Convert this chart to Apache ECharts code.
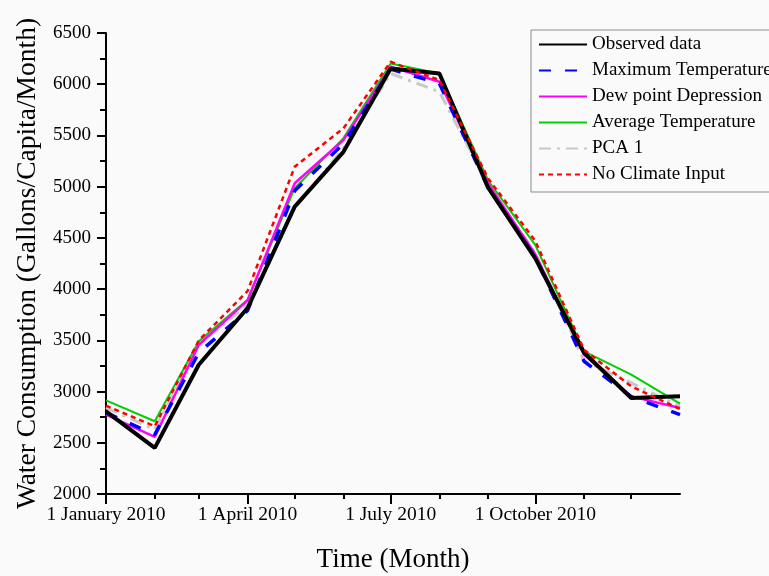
<!DOCTYPE html>
<html>
<head>
<meta charset="utf-8">
<script src="https://cdn.jsdelivr.net/npm/echarts@6/dist/echarts.min.js"></script>
<style>
  html, body { margin: 0; padding: 0; background: #fafafa; }
  #chart { width: 769px; height: 576px; }
</style>
</head>
<body>
<div id="chart"></div>
<script>
// monthly dates, 1 Jan 2010 .. 1 Jan 2011
const months = ['2010-01-01', '2010-02-01', '2010-03-01', '2010-04-01', '2010-05-01', '2010-06-01',
  '2010-07-01', '2010-08-01', '2010-09-01', '2010-10-01', '2010-11-01', '2010-12-01', '2011-01-01']
const monthNames = ['January', 'February', 'March', 'April', 'May', 'June', 'July',
  'August', 'September', 'October', 'November', 'December']

const observed = [2807, 2450, 3262, 3815, 4805, 5340, 6154, 6105, 4990, 4300, 3379, 2937, 2953]
const maxTemp = [2794, 2580, 3380, 3790, 4960, 5420, 6147, 6008, 4990, 4310, 3295, 2950, 2775]
const dewPoint = [2775, 2557, 3457, 3890, 5033, 5455, 6170, 6024, 5030, 4340, 3360, 2953, 2840]
const avgTemp = [2914, 2710, 3490, 3895, 4985, 5474, 6203, 6105, 5060, 4430, 3392, 3165, 2882]
const pca1 = [2843, 2628, 3457, 3847, 4790, 5377, 6105, 5926, 5020, 4350, 3300, 3084, 2856]
const noClimate = [2862, 2661, 3500, 3980, 5195, 5570, 6219, 6040, 5080, 4470, 3408, 3050, 2830]

const monthTicks = months.slice(0, 12)
const quarterTicks = ['2010-01-01', '2010-04-01', '2010-07-01', '2010-10-01']

const FONT = 'Liberation Serif'
// x position = days since 1 Jan 2010
const toDay = (s) => {
  const p = s.split('-')
  return Math.round((Date.UTC(+p[0], +p[1] - 1, +p[2]) - Date.UTC(2010, 0, 1)) / 86400000)
}
const pairs = (vals) => vals.map((v, i) => [toDay(months[i]), v])

const chart = echarts.init(document.getElementById('chart'))

const baseLine = (name, values, color, width, type) => ({
  name: name,
  type: 'line',
  data: pairs(values),
  symbol: 'none',
  lineStyle: { color: color, width: width, type: type },
  itemStyle: { color: color },
  emphasis: { disabled: true },
})

const option = {
  animation: false,
  backgroundColor: '#fafafa',
  textStyle: { fontFamily: FONT },
  grid: { left: 106, right: 89, top: 33, bottom: 82, outerBoundsMode: 'none' },
  legend: {
    orient: 'vertical',
    left: 531,
    top: 30,
    padding: [5, 60, 8, 7],
    itemWidth: 48,
    itemHeight: 14,
    itemGap: 7,
    borderColor: '#8a8a8a',
    borderWidth: 1,
    backgroundColor: '#fafafa',
    itemStyle: { opacity: 0 },
    textStyle: { fontFamily: FONT, fontSize: 19, color: '#000' },
    data: ['Observed data', 'Maximum Temperature', 'Dew point Depression',
      'Average Temperature', 'PCA 1', 'No Climate Input'],
  },
  xAxis: [
    {
      type: 'value',
      min: toDay(months[0]),
      max: toDay(months[12]),
      axisLine: { lineStyle: { color: '#000', width: 2 } },
      axisTick: { show: true, customValues: monthTicks.map(toDay), length: 5, lineStyle: { color: '#000', width: 2 } },
      axisLabel: { show: false },
      splitLine: { show: false },
    },
    {
      type: 'value',
      position: 'bottom',
      min: toDay(months[0]),
      max: toDay(months[12]),
      axisLine: { show: false },
      axisTick: { show: true, customValues: quarterTicks.map(toDay), length: 10, lineStyle: { color: '#000', width: 2 } },
      axisLabel: {
        customValues: quarterTicks.map(toDay),
        margin: 11,
        fontFamily: FONT,
        fontSize: 19.5,
        color: '#000',
        formatter: function (value) {
          const i = months.findIndex((m) => toDay(m) === value)
          return '1 ' + monthNames[i % 12] + ' ' + months[i].slice(0, 4)
        },
      },
      splitLine: { show: false },
      name: 'Time (Month)',
      nameLocation: 'middle',
      nameGap: 52,
      nameTextStyle: { fontFamily: FONT, fontSize: 27, color: '#000' },
    },
  ],
  yAxis: {
    type: 'value',
    min: 2000,
    max: 6500,
    interval: 500,
    axisLine: { show: true, lineStyle: { color: '#000', width: 2 } },
    axisTick: { show: true, length: 9, lineStyle: { color: '#000', width: 2 } },
    minorTick: { show: true, splitNumber: 2, length: 6, lineStyle: { color: '#000', width: 2 } },
    axisLabel: {
      margin: 15,
      fontFamily: FONT,
      fontSize: 19,
      color: '#000',
      formatter: (v) => String(v),
    },
    splitLine: { show: false },
    name: 'Water Consumption (Gallons/Capita/Month)',
    nameLocation: 'middle',
    nameGap: 63,
    nameTextStyle: { fontFamily: FONT, fontSize: 27.5, color: '#000' },
  },
  series: [
    baseLine('PCA 1', pca1, '#c8c8c8', 3, [12, 6, 3, 6]),
    baseLine('Average Temperature', avgTemp, '#00d000', 2, 'solid'),
    baseLine('Dew point Depression', dewPoint, '#ff00ff', 2.5, 'solid'),
    baseLine('Maximum Temperature', maxTemp, '#0000ff', 3.5, [12, 14]),
    baseLine('Observed data', observed, '#000000', 4, 'solid'),
    baseLine('No Climate Input', noClimate, '#ff0000', 2.5, [5, 4]),
  ],
}

option && chart.setOption(option)
</script>
</body>
</html>
